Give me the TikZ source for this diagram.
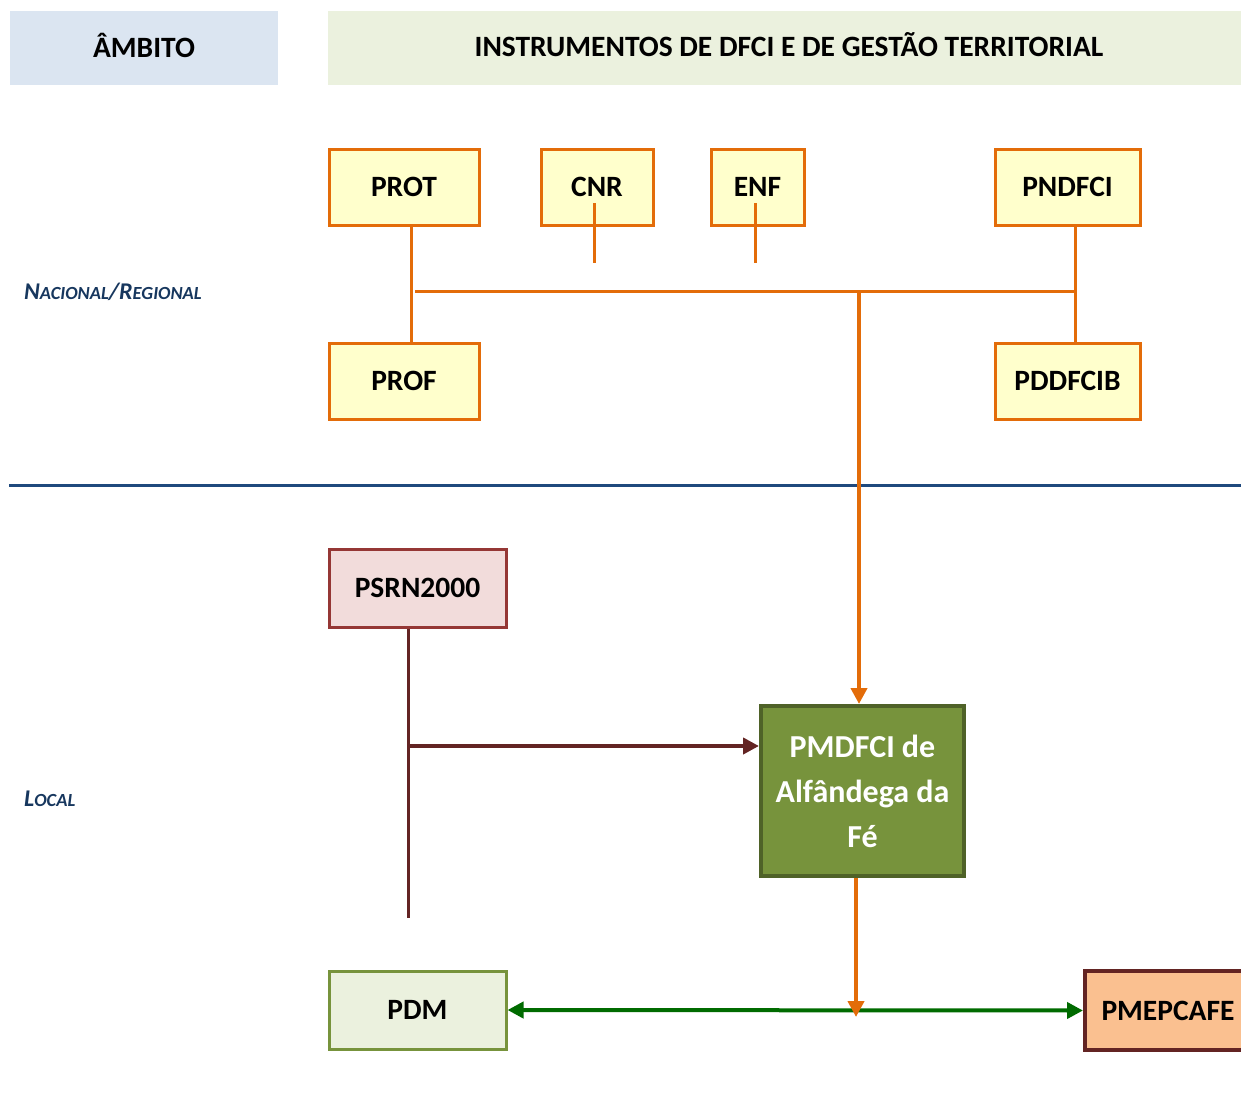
\documentclass[tikz,border=0pt]{standalone}
\usepackage{fontspec}
\setmainfont{Carlito}
\usetikzlibrary{arrows.meta}
\definecolor{orng}{HTML}{E36C09}
\definecolor{yfill}{HTML}{FFFFCC}
\definecolor{hblue}{HTML}{DBE5F1}
\definecolor{hgreen}{HTML}{EBF1DE}
\definecolor{navy}{HTML}{17375E}
\definecolor{sepblue}{HTML}{1F497D}
\definecolor{pinkfill}{HTML}{F2DCDB}
\definecolor{redborder}{HTML}{953735}
\definecolor{brown}{HTML}{632423}
\definecolor{olive}{HTML}{77933C}
\definecolor{darkolive}{HTML}{4F6228}
\definecolor{peach}{HTML}{FAC090}
\definecolor{dgreen}{HTML}{006B00}
\begin{document}
\begin{tikzpicture}[x=1pt,y=-1pt,
  lbl/.style={font=\fontsize{29.5}{34}\selectfont\bfseries},
  ybox/.style={lbl, draw=orng, fill=yfill, line width=3pt, inner sep=0pt},
  oline/.style={draw=orng, line width=3pt},
  tip/.style={Triangle[length=16pt,width=16pt]},
  oarrow/.style={draw=orng, line width=4pt, -{Triangle[length=16pt,width=16pt]}},
  bline/.style={draw=brown, line width=3pt},
  barrow/.style={draw=brown, line width=4pt, -{Triangle[length=16pt,width=16pt]}},
  garrow/.style={draw=dgreen, line width=4pt, {Triangle[length=16pt,width=16pt]}-{Triangle[length=16pt,width=16pt]}},
  side/.style={text=navy, font=\bfseries\itshape, anchor=base west, inner sep=0pt}
]
\useasboundingbox (0,0) rectangle (1241,1113);
% headers
\fill[hblue] (10,11) rectangle (278,85);
\fill[hgreen] (328,11) rectangle (1245,85);
\node[lbl] (ambito) at (144,45) {ÂMBITO};
\node[lbl] (instr) at (789,45) {INSTRUMENTOS DE DFCI E DE GESTÃO TERRITORIAL};
% side labels
\node[side] (nac) at (24,299) {{\fontsize{24}{28}\selectfont N}{\fontsize{18.5}{28}\selectfont ACIONAL}{\fontsize{24}{28}\selectfont /R}{\fontsize{18.5}{28}\selectfont EGIONAL}};
\node[side] (loc) at (24,806) {{\fontsize{24}{28}\selectfont L}{\fontsize{18.5}{28}\selectfont OCAL}};
% separator
\draw[sepblue, line width=3pt] (9,485) -- (1241,485);
% national boxes
\node[ybox, minimum width=150pt, minimum height=76pt] (prot) at (404,187) {PROT};
\node[ybox, minimum width=112pt, minimum height=76pt] (cnr) at (597,187) {CNR};
\node[ybox, minimum width=93pt, minimum height=76pt] (enf) at (757.5,187) {ENF};
\node[ybox, minimum width=145pt, minimum height=76pt] (pndfci) at (1067.5,187) {PNDFCI};
\node[ybox, minimum width=150pt, minimum height=76pt] (prof) at (404,381) {PROF};
\node[ybox, minimum width=145pt, minimum height=76pt] (pddfcib) at (1067.5,381) {PDDFCIB};
% local boxes
\node[lbl, draw=redborder, fill=pinkfill, line width=3pt, minimum width=177pt, minimum height=78pt, inner sep=0pt] (psrn) at (417.5,588) {PSRN2000};
\node[text=white, draw=darkolive, fill=olive, line width=4pt, minimum width=203pt, minimum height=170pt, inner sep=0pt, align=center, font=\fontsize{32}{45}\selectfont\bfseries] (pmdfci) at (862.5,791) {PMDFCI de\\Alfândega da\\Fé};
\node[lbl, draw=olive, fill=hgreen, line width=3pt, minimum width=177pt, minimum height=78pt, inner sep=0pt] (pdm) at (417.5,1010) {PDM};
\node[lbl, draw=brown, fill=peach, line width=4pt, minimum width=166pt, minimum height=79pt, inner sep=0pt] (pmep) at (1168,1010.5) {PMEPCAFE};
% national connectors
\coordinate (jl) at (415,291);
\coordinate (jr) at (1075,291);
\coordinate (cnrend) at (594,263);
\coordinate (enfend) at (755,263);
\coordinate (a1) at (859,293);
\draw[oline] ([xshift=7pt]prot.south) -- ([xshift=7pt]prof.north);
\draw[oline] ([xshift=7.5pt]pndfci.south) -- ([xshift=7.5pt]pddfcib.north);
\draw[oline] (jl) -- (jr);
\draw[oline] (cnrend |- 0,203) -- (cnrend);
\draw[oline] (enfend |- 0,203) -- (enfend);
\draw[oarrow] (a1) -- (a1 |- pmdfci.north);
% local connectors
\coordinate (s1) at (408,918);
\coordinate (s2) at (408,746);
\coordinate (o2) at (856,1017);
\draw[bline] (psrn.south -| s1) -- (s1);
\draw[barrow] (s2) -- (s2 -| pmdfci.west);
\draw[garrow] (pdm.east) -- (pmep.west);
\draw[oarrow] (pmdfci.south -| o2) -- (o2);
\end{tikzpicture}
\end{document}
